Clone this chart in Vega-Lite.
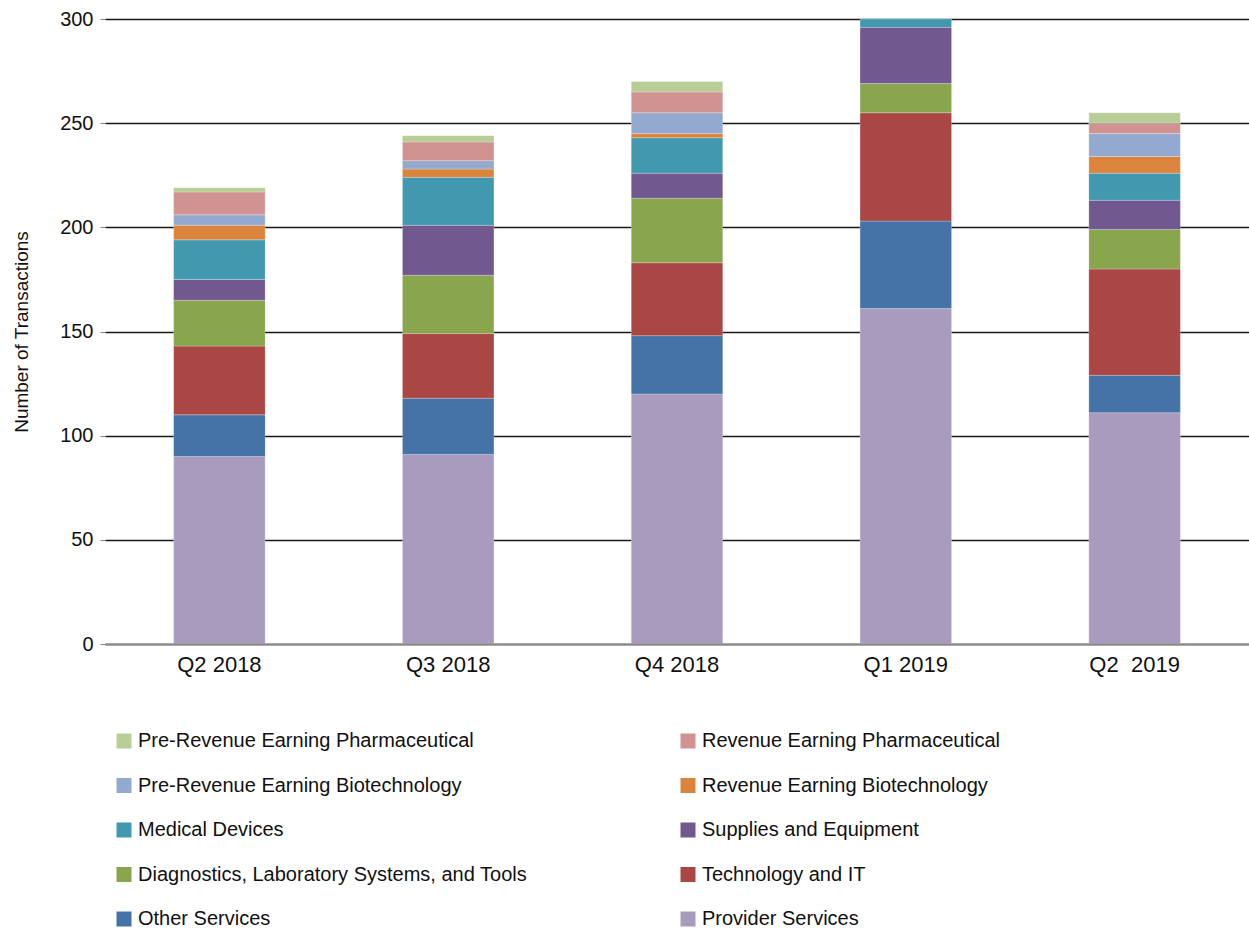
{
  "$schema": "https://vega.github.io/schema/vega-lite/v6.json",
  "width": 1144,
  "height": 625,
  "autosize": {"type": "none"},
  "padding": {"left": 105, "top": 19, "right": 0, "bottom": 289},
  "config": {"view": {"stroke": null}, "font": "Liberation Sans"},
  "datasets": {
    "sectors": [
      {"sector": "Provider Services", "stackRank": 1},
      {"sector": "Other Services", "stackRank": 2},
      {"sector": "Technology and IT", "stackRank": 3},
      {"sector": "Diagnostics, Laboratory Systems, and Tools", "stackRank": 4},
      {"sector": "Supplies and Equipment", "stackRank": 5},
      {"sector": "Medical Devices", "stackRank": 6},
      {"sector": "Revenue Earning Biotechnology", "stackRank": 7},
      {"sector": "Pre-Revenue Earning Biotechnology", "stackRank": 8},
      {"sector": "Revenue Earning Pharmaceutical", "stackRank": 9},
      {"sector": "Pre-Revenue Earning Pharmaceutical", "stackRank": 10}
    ]
  },
  "data": {
    "values": [
      {"quarter": "Q2 2018", "sector": "Provider Services", "transactions": 90},
      {"quarter": "Q2 2018", "sector": "Other Services", "transactions": 20},
      {"quarter": "Q2 2018", "sector": "Technology and IT", "transactions": 33},
      {"quarter": "Q2 2018", "sector": "Diagnostics, Laboratory Systems, and Tools", "transactions": 22},
      {"quarter": "Q2 2018", "sector": "Supplies and Equipment", "transactions": 10},
      {"quarter": "Q2 2018", "sector": "Medical Devices", "transactions": 19},
      {"quarter": "Q2 2018", "sector": "Revenue Earning Biotechnology", "transactions": 7},
      {"quarter": "Q2 2018", "sector": "Pre-Revenue Earning Biotechnology", "transactions": 5},
      {"quarter": "Q2 2018", "sector": "Revenue Earning Pharmaceutical", "transactions": 11},
      {"quarter": "Q2 2018", "sector": "Pre-Revenue Earning Pharmaceutical", "transactions": 2},
      {"quarter": "Q3 2018", "sector": "Provider Services", "transactions": 91},
      {"quarter": "Q3 2018", "sector": "Other Services", "transactions": 27},
      {"quarter": "Q3 2018", "sector": "Technology and IT", "transactions": 31},
      {"quarter": "Q3 2018", "sector": "Diagnostics, Laboratory Systems, and Tools", "transactions": 28},
      {"quarter": "Q3 2018", "sector": "Supplies and Equipment", "transactions": 24},
      {"quarter": "Q3 2018", "sector": "Medical Devices", "transactions": 23},
      {"quarter": "Q3 2018", "sector": "Revenue Earning Biotechnology", "transactions": 4},
      {"quarter": "Q3 2018", "sector": "Pre-Revenue Earning Biotechnology", "transactions": 4},
      {"quarter": "Q3 2018", "sector": "Revenue Earning Pharmaceutical", "transactions": 9},
      {"quarter": "Q3 2018", "sector": "Pre-Revenue Earning Pharmaceutical", "transactions": 3},
      {"quarter": "Q4 2018", "sector": "Provider Services", "transactions": 120},
      {"quarter": "Q4 2018", "sector": "Other Services", "transactions": 28},
      {"quarter": "Q4 2018", "sector": "Technology and IT", "transactions": 35},
      {"quarter": "Q4 2018", "sector": "Diagnostics, Laboratory Systems, and Tools", "transactions": 31},
      {"quarter": "Q4 2018", "sector": "Supplies and Equipment", "transactions": 12},
      {"quarter": "Q4 2018", "sector": "Medical Devices", "transactions": 17},
      {"quarter": "Q4 2018", "sector": "Revenue Earning Biotechnology", "transactions": 2},
      {"quarter": "Q4 2018", "sector": "Pre-Revenue Earning Biotechnology", "transactions": 10},
      {"quarter": "Q4 2018", "sector": "Revenue Earning Pharmaceutical", "transactions": 10},
      {"quarter": "Q4 2018", "sector": "Pre-Revenue Earning Pharmaceutical", "transactions": 5},
      {"quarter": "Q1 2019", "sector": "Provider Services", "transactions": 161},
      {"quarter": "Q1 2019", "sector": "Other Services", "transactions": 42},
      {"quarter": "Q1 2019", "sector": "Technology and IT", "transactions": 52},
      {"quarter": "Q1 2019", "sector": "Diagnostics, Laboratory Systems, and Tools", "transactions": 14},
      {"quarter": "Q1 2019", "sector": "Supplies and Equipment", "transactions": 27},
      {"quarter": "Q1 2019", "sector": "Medical Devices", "transactions": 4},
      {"quarter": "Q2 \u00a02019", "sector": "Provider Services", "transactions": 111},
      {"quarter": "Q2 \u00a02019", "sector": "Other Services", "transactions": 18},
      {"quarter": "Q2 \u00a02019", "sector": "Technology and IT", "transactions": 51},
      {"quarter": "Q2 \u00a02019", "sector": "Diagnostics, Laboratory Systems, and Tools", "transactions": 19},
      {"quarter": "Q2 \u00a02019", "sector": "Supplies and Equipment", "transactions": 14},
      {"quarter": "Q2 \u00a02019", "sector": "Medical Devices", "transactions": 13},
      {"quarter": "Q2 \u00a02019", "sector": "Revenue Earning Biotechnology", "transactions": 8},
      {"quarter": "Q2 \u00a02019", "sector": "Pre-Revenue Earning Biotechnology", "transactions": 11},
      {"quarter": "Q2 \u00a02019", "sector": "Revenue Earning Pharmaceutical", "transactions": 5},
      {"quarter": "Q2 \u00a02019", "sector": "Pre-Revenue Earning Pharmaceutical", "transactions": 5}
    ]
  },
  "transform": [
    {"lookup": "sector", "from": {"data": {"name": "sectors"}, "key": "sector", "fields": ["stackRank"]}}
  ],
  "mark": {"type": "bar", "stroke": "#ffffff", "strokeWidth": 0.8, "strokeOpacity": 0.3, "clip": true},
  "encoding": {
    "x": {
      "field": "quarter",
      "type": "nominal",
      "sort": ["Q2 2018", "Q3 2018", "Q4 2018", "Q1 2019", "Q2 \u00a02019"],
      "scale": {"paddingInner": 0.6, "paddingOuter": 0.3},
      "axis": {
        "title": null,
        "labelAngle": 0,
        "labelFontSize": 22,
        "labelColor": "#111111",
        "labelPadding": 10,
        "ticks": false,
        "domainColor": "#8c8c8c",
        "domainWidth": 2,
        "zindex": 1
      }
    },
    "y": {
      "field": "transactions",
      "type": "quantitative",
      "stack": "zero",
      "scale": {"domain": [0, 300], "nice": false},
      "axis": {
        "values": [0, 50, 100, 150, 200, 250, 300],
        "title": "Number of Transactions",
        "titleFontSize": 19,
        "titleFontWeight": "normal",
        "titleColor": "#111111",
        "titlePadding": 28,
        "labelFontSize": 20,
        "labelColor": "#111111",
        "labelPadding": 7,
        "tickSize": 5,
        "tickColor": "#888888",
        "domain": false,
        "grid": true,
        "gridColor": "#1a1a1a",
        "gridWidth": 1.3
      }
    },
    "order": {"field": "stackRank", "type": "quantitative", "sort": "ascending"},
    "color": {
      "field": "sector",
      "type": "nominal",
      "sort": [
        "Pre-Revenue Earning Pharmaceutical",
        "Pre-Revenue Earning Biotechnology",
        "Medical Devices",
        "Diagnostics, Laboratory Systems, and Tools",
        "Other Services",
        "Revenue Earning Pharmaceutical",
        "Revenue Earning Biotechnology",
        "Supplies and Equipment",
        "Technology and IT",
        "Provider Services"
      ],
      "scale": {
        "domain": [
          "Pre-Revenue Earning Pharmaceutical",
          "Pre-Revenue Earning Biotechnology",
          "Medical Devices",
          "Diagnostics, Laboratory Systems, and Tools",
          "Other Services",
          "Revenue Earning Pharmaceutical",
          "Revenue Earning Biotechnology",
          "Supplies and Equipment",
          "Technology and IT",
          "Provider Services"
        ],
        "range": ["#B9CD96", "#93A9CF", "#4198AF", "#89A54E", "#4572A7", "#D19392", "#DB843D", "#71588F", "#AA4643", "#A99BBD"]
      },
      "legend": {
        "title": null,
        "orient": "none",
        "legendX": 9,
        "legendY": 712,
        "columns": 2,
        "symbolType": "square",
        "symbolSize": 225,
        "symbolStrokeWidth": 0,
        "symbolOpacity": 1,
        "labelFontSize": 20,
        "labelColor": "#111111",
        "labelOffset": 4,
        "labelLimit": 600,
        "rowPadding": 24.5,
        "columnPadding": 150
      }
    }
  }
}
